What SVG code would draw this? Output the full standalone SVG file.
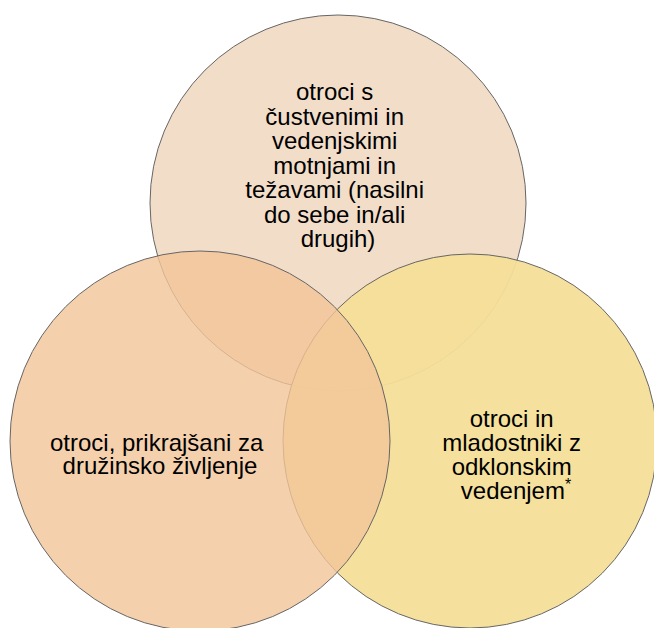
<svg xmlns="http://www.w3.org/2000/svg" width="654" height="628" viewBox="0 0 654 628">
<style>
.c{stroke:#666;stroke-width:1}
.t{font-family:"Liberation Sans",Arial,sans-serif;font-size:24px;fill:#000;text-anchor:middle}
</style>
<rect width="654" height="628" fill="#fff"/>
<g id="node-top">
<circle class="c" cx="338" cy="203" r="188" fill="#F2DDC9"/>
</g>
<g id="node-right">
<circle class="c" cx="470" cy="441" r="187" fill="#F5DE98" fill-opacity="0.95"/>
</g>
<g id="node-left">
<circle class="c" cx="200" cy="441" r="190" fill="#F3C499" fill-opacity="0.8"/>
</g>
<g id="connectors"></g>
<g id="labels">
<text class="t">
<tspan x="338" y="100">otroci s</tspan>
<tspan x="338" y="124.5">čustvenimi in</tspan>
<tspan x="338" y="149">vedenjskimi</tspan>
<tspan x="338" y="173.5">motnjami in</tspan>
<tspan x="338" y="198">težavami (nasilni</tspan>
<tspan x="338" y="222.5">do sebe in/ali</tspan>
<tspan x="338" y="247">drugih)</tspan>
</text>
<text class="t">
<tspan x="160" y="451">otroci, prikrajšani za</tspan>
<tspan x="160" y="474">družinsko življenje</tspan>
</text>
<text class="t">
<tspan x="515" y="427">otroci in</tspan>
<tspan x="515" y="451">mladostniki z</tspan>
<tspan x="515" y="475">odklonskim</tspan>
<tspan x="516" y="499">vedenjem<tspan font-size="16" dy="-9">*</tspan></tspan>
</text>
</g>
</svg>
